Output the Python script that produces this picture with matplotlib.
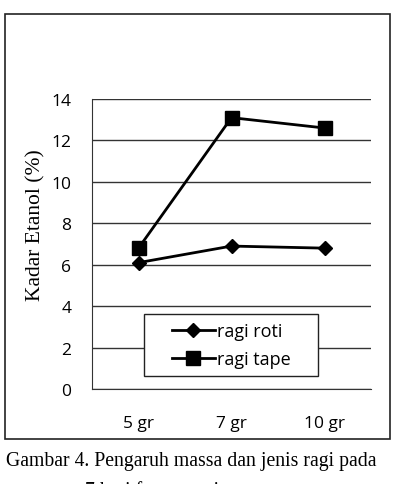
import matplotlib.pyplot as plt
from matplotlib.patches import Rectangle

kategori = ["5 gr", "7 gr", "10 gr"]
ragi_roti = [6.1, 6.9, 6.8]
ragi_tape = [6.8, 13.1, 12.6]
yticks = [0, 2, 4, 6, 8, 10, 12, 14]

W, H = 399, 485
fig = plt.figure(figsize=(W / 100, H / 100), dpi=100)

# outer frame of the chart
fig.patches.append(Rectangle((5 / W, 1 - 440 / H), 385 / W, 425 / H,
                             transform=fig.transFigure, fill=False,
                             edgecolor="#222222", linewidth=1.2))

ax = fig.add_axes([92 / W, 1 - 390 / H, 279 / W, 290 / H])
x = range(len(kategori))
ax.plot(x, ragi_roti, color="black", lw=2, marker="D", ms=7, label="ragi roti")
ax.plot(x, ragi_tape, color="black", lw=2, marker="s", ms=10, label="ragi tape")

ax.set_xlim(-0.5, 2.5)
ax.set_ylim(0, 14)
ax.set_yticks(yticks)
ax.set_xticks(list(x))
ax.set_xticklabels(kategori)
ax.yaxis.grid(True, color="#333333", lw=1)
ax.set_axisbelow(True)
for s in ["top", "right"]:
    ax.spines[s].set_visible(False)
ax.spines["left"].set_color("#333333")
ax.spines["bottom"].set_color("#333333")
ax.tick_params(length=0, labelsize=12.5, pad=15)
ax.tick_params(axis="x", pad=19)
for t in ax.get_xticklabels() + ax.get_yticklabels():
    t.set_fontfamily("Open Sans")
ax.set_ylabel("Kadar Etanol (%)", fontsize=15.5, family="Liberation Serif")
ax.yaxis.set_label_coords(-0.165, 0.57)

# legend box drawn by hand, wider than the entries
ax.add_patch(Rectangle(((144 - 92) / 279, (390 - 377) / 290), 174 / 279, 62 / 290,
                       transform=ax.transAxes, facecolor="white",
                       edgecolor="#222222", lw=1, zorder=5))
leg = ax.legend(loc="center", bbox_to_anchor=((231 - 92) / 279, (390 - 346) / 290),
                frameon=False, prop={"family": "Open Sans", "size": 13},
                handlelength=2.4, labelspacing=0.55, handletextpad=0.1)
leg.set_zorder(6)

fig.text(6 / W, 1 - 462 / H, "Gambar 4. Pengaruh massa dan jenis ragi pada",
         family="Liberation Serif", fontsize=14.2, va="center", ha="left")
fig.text(85 / W, 1 - 492 / H, "7 hari fermentasi",
         family="Liberation Serif", fontsize=14.2, va="center", ha="left")

fig.savefig("out.png", dpi=100)
